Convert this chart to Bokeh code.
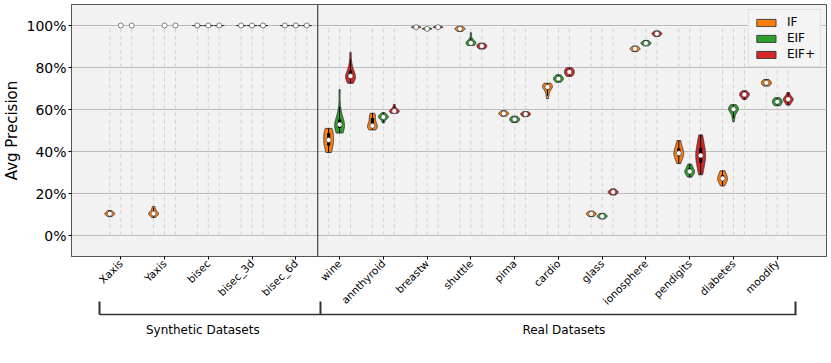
import numpy as np
from bokeh.plotting import figure
from bokeh.models import (FixedTicker, PrintfTickFormatter, Span, LinearAxis,
                          Legend, LegendItem, Range1d)
from bokeh.embed import file_html
from bokeh.resources import INLINE

# ---------------- data (Avg Precision per run, %) ----------------
datasets = ["Xaxis", "Yaxis", "bisec", "bisec_3d", "bisec_6d", "wine", "annthyroid",
            "breastw", "shuttle", "pima", "cardio", "glass", "ionosphere",
            "pendigits", "diabetes", "moodify"]
models = ["IF", "EIF", "EIF+"]
colors = ["#ff7f0e", "#2ca02c", "#d62728"]
n_synthetic = 5
group_labels = ["Synthetic Datasets", "Real Datasets"]
y_ticks = [0, 20, 40, 60, 80, 100]

IF_runs = [
    [9.0, 9.5, 9.9, 10.2, 10.4, 10.6, 10.9, 11.3, 11.9],
    [8.6, 9.4, 10.0, 10.3, 10.4, 10.5, 10.8, 11.5, 12.6, 13.8],
    [99.8, 99.9, 100, 100, 100],
    [99.8, 99.9, 100, 100, 100],
    [99.8, 99.9, 100, 100, 100],
    [39.5, 40.5, 42.3, 43.5, 45.0, 45.5, 46.5, 48.0, 49.4, 50.2, 51.0],
    [50.3, 51.2, 51.8, 52.0, 52.1, 52.3, 54.0, 55.5, 56.5, 57.3, 58.2],
    [98.7, 98.9, 99.05, 99.15, 99.2, 99.3, 99.4, 99.55, 99.7],
    [97.2, 97.6, 97.9, 98.2, 98.4, 98.6, 98.9, 99.2, 99.6],
    [56.8, 57.2, 57.6, 57.9, 58.1, 58.3, 58.6, 59.0, 59.4],
    [65.2, 67.5, 69.2, 70.2, 70.6, 70.8, 71.1, 71.5, 72.0, 72.5],
    [9.0, 9.4, 9.8, 10.1, 10.3, 10.5, 10.8, 11.2, 11.6],
    [87.6, 88.0, 88.4, 88.7, 88.9, 89.1, 89.4, 89.8, 90.2],
    [34.3, 35.8, 37.2, 38.3, 39.0, 39.2, 39.8, 40.8, 42.2, 43.6, 45.2],
    [23.6, 24.8, 25.8, 26.5, 27.0, 27.3, 28.0, 29.0, 30.0, 30.8],
    [71.2, 71.6, 72.0, 72.4, 72.7, 73.0, 73.4, 73.8, 74.3],
]
EIF_runs = [
    [100, 100, 100, 100, 100],
    [100, 100, 100, 100, 100],
    [99.8, 99.9, 100, 100, 100],
    [99.8, 99.9, 100, 100, 100],
    [99.8, 99.9, 100, 100, 100],
    [48.8, 49.5, 50.2, 51.0, 51.8, 52.3, 52.6, 53.0, 53.6, 54.5, 55.5, 57.5, 61.0, 69.5],
    [53.6, 55.0, 55.6, 56.0, 56.2, 56.4, 56.7, 57.0, 57.3, 57.6, 58.5],
    [97.9, 98.1, 98.25, 98.35, 98.4, 98.5, 98.6, 98.75, 98.9],
    [90.5, 91.0, 91.3, 91.5, 91.6, 91.8, 92.1, 92.6, 93.5, 96.5],
    [53.8, 54.2, 54.6, 55.0, 55.3, 55.6, 55.9, 56.3, 56.8],
    [73.0, 73.5, 74.0, 74.4, 74.7, 75.0, 75.4, 75.9, 76.5],
    [7.9, 8.3, 8.7, 9.0, 9.2, 9.4, 9.7, 10.1, 10.5],
    [90.3, 90.7, 91.1, 91.4, 91.6, 91.8, 92.1, 92.5, 92.9],
    [27.8, 28.6, 29.3, 29.9, 30.3, 30.5, 30.9, 31.5, 32.2, 33.0, 34.0],
    [54.2, 56.5, 58.3, 59.3, 59.8, 60.1, 60.3, 60.6, 61.0, 61.5, 62.3],
    [61.8, 62.3, 62.8, 63.3, 63.7, 64.1, 64.5, 65.0, 65.6],
]
EIFp_runs = [
    [100, 100, 100, 100, 100],
    [100, 100, 100, 100, 100],
    [99.8, 99.9, 100, 100, 100],
    [99.8, 99.9, 100, 100, 100],
    [99.8, 99.9, 100, 100, 100],
    [72.5, 73.5, 74.3, 74.8, 75.2, 75.6, 75.8, 76.0, 76.6, 77.5, 78.8, 80.2, 82.5, 87.2],
    [58.2, 58.5, 58.8, 59.0, 59.2, 59.4, 59.7, 60.1, 60.8, 62.4],
    [98.7, 98.9, 99.05, 99.15, 99.2, 99.3, 99.4, 99.55, 99.7],
    [88.8, 89.2, 89.6, 89.9, 90.2, 90.5, 90.8, 91.2, 91.6],
    [56.6, 57.0, 57.3, 57.6, 57.8, 58.0, 58.3, 58.6, 59.0],
    [75.8, 76.4, 76.9, 77.4, 77.9, 78.3, 78.8, 79.3, 79.9],
    [19.3, 19.7, 20.1, 20.5, 20.7, 20.9, 21.2, 21.6, 22.2],
    [94.8, 95.2, 95.6, 95.9, 96.1, 96.3, 96.6, 97.0, 97.4],
    [28.9, 31.0, 33.0, 34.8, 36.3, 37.5, 38.1, 39.0, 40.2, 41.8, 43.5, 45.5, 47.9],
    [64.8, 65.6, 66.2, 66.6, 67.0, 67.2, 67.5, 67.9, 68.4, 68.9],
    [62.1, 63.0, 63.8, 64.4, 64.8, 64.9, 65.2, 65.7, 66.5, 68.1],
]
all_runs = [IF_runs, EIF_runs, EIFp_runs]

# ---------------- layout helpers ----------------
SLOT = 4          # positions per dataset group (3 violins + gap)
HALF_W = 0.45     # max half width of a violin
FONT = "DejaVu Sans"


def xpos(g, m):
    return g * SLOT + m


def violin_outline(vals, x0):
    v = np.asarray(vals, float)
    if v.std() == 0:
        return None
    n = len(v)
    bw = v.std(ddof=1) * n ** (-0.2)
    ys = np.linspace(v.min(), v.max(), 90)
    dens = np.exp(-0.5 * ((ys[:, None] - v[None, :]) / bw) ** 2).sum(axis=1)
    dens = dens / dens.max() * HALF_W
    xs = np.concatenate([x0 - dens, (x0 + dens)[::-1]])
    yy = np.concatenate([ys, ys[::-1]])
    return list(xs), list(yy)


n_groups = len(datasets)

p = figure(width=828, height=339, x_range=Range1d(-3.5, 65.5),
           y_range=Range1d(-10, 110), output_backend="svg",
           toolbar_location=None, min_border_left=0, min_border_right=2,
           min_border_top=4, min_border_bottom=0,
           background_fill_color="#f2f2f2", border_fill_color="white",
           outline_line_color="#555555", outline_line_width=1)

# dashed guide lines at every violin position
guide_x = [xpos(g, m) for g in range(n_groups) for m in range(3)]
p.segment(x0=guide_x, y0=[0] * len(guide_x), x1=guide_x, y1=[100] * len(guide_x),
          line_color="#d2d2d2", line_width=1, line_dash="4 3")

# separator between synthetic and real datasets
p.add_layout(Span(location=n_synthetic * SLOT - 1, dimension="height",
                  line_color="#444444", line_width=1.2))

legend_items = []
for m, runs in enumerate(all_runs):
    pxs, pys = [], []
    wx, wy0, wy1, q1s, q3s, meds = [], [], [], [], [], []
    for g, vals in enumerate(runs):
        x0 = xpos(g, m)
        out = violin_outline(vals, x0)
        if out is not None:
            pxs.append(out[0])
            pys.append(out[1])
        v = np.asarray(vals, float)
        q1, med, q3 = np.percentile(v, [25, 50, 75])
        iqr = q3 - q1
        lo = max(v.min(), q1 - 1.5 * iqr)
        hi = min(v.max(), q3 + 1.5 * iqr)
        wx.append(x0); wy0.append(lo); wy1.append(hi)
        q1s.append(q1); q3s.append(q3); meds.append(med)
    r = p.patches(xs=pxs, ys=pys, fill_color=colors[m], fill_alpha=1.0,
                  line_color="#333333", line_width=0.9)
    legend_items.append(LegendItem(label=models[m], renderers=[r]))
    p.segment(x0=wx, y0=wy0, x1=wx, y1=wy1, line_color="black", line_width=1)
    p.segment(x0=wx, y0=q1s, x1=wx, y1=q3s, line_color="black", line_width=3.2)
    p.scatter(x=wx, y=meds, size=5, fill_color="white", line_color="#333333",
              line_width=0.6)

# y axis
p.yaxis.ticker = FixedTicker(ticks=y_ticks)
p.yaxis.formatter = PrintfTickFormatter(format="%d%%")
p.yaxis.axis_label = "Avg Precision"
p.yaxis.axis_label_text_font = FONT
p.yaxis.axis_label_text_font_style = "normal"
p.yaxis.axis_label_text_font_size = "15px"
p.yaxis.axis_label_text_color = "black"
p.yaxis.axis_label_standoff = 2
p.yaxis.major_label_text_font = FONT
p.yaxis.major_label_text_font_size = "14px"
p.yaxis.major_label_text_color = "black"
p.yaxis.major_label_standoff = 2
p.yaxis.major_tick_out = 3
p.yaxis.major_tick_in = 0
p.yaxis.minor_tick_line_color = None
p.yaxis.axis_line_color = "#555555"
p.ygrid.ticker = FixedTicker(ticks=y_ticks)
p.ygrid.grid_line_color = "#bcbcbc"
p.ygrid.grid_line_width = 1
p.xgrid.visible = False

# x axis with dataset names
tick_x = [xpos(g, 1) for g in range(n_groups)]
xa = p.xaxis[0]
xa.ticker = FixedTicker(ticks=tick_x)
xa.major_label_overrides = {t: name for t, name in zip(tick_x, datasets)}
xa.major_label_orientation = np.pi / 4
xa.major_label_text_font = FONT
xa.major_label_text_font_size = "10.5px"
xa.major_label_text_color = "black"
xa.major_label_standoff = 2
xa.major_tick_out = 3
xa.major_tick_in = 0
xa.axis_line_color = "#555555"

# bracket axis for dataset groups
syn_lo = -0.9
syn_hi = n_synthetic * SLOT - 0.7
real_hi = (n_groups - 1) * SLOT + 2.7
br = LinearAxis(ticker=FixedTicker(ticks=[8.5, 41.5], minor_ticks=[syn_lo, syn_hi, real_hi]),
                bounds=(syn_lo - 0.05, real_hi + 0.05),
                major_label_overrides={8.5: group_labels[0], 41.5: group_labels[1]})
br.major_tick_in = 0
br.major_tick_out = 0
br.minor_tick_in = 13
br.minor_tick_out = 0
br.minor_tick_line_width = 2
br.minor_tick_line_color = "#333333"
br.axis_line_color = "#333333"
br.axis_line_width = 1.3
br.major_label_standoff = 8
br.major_label_text_font = FONT
br.major_label_text_font_size = "12px"
br.major_label_text_color = "black"
p.add_layout(br, "below")

legend = Legend(items=legend_items, location="top_right",
                background_fill_color="#f4f4f4", background_fill_alpha=1,
                border_line_color="#d0d0d0", label_text_font=FONT,
                label_text_font_size="12px", label_text_color="black",
                glyph_width=24, glyph_height=9,
                label_height=14, spacing=2, padding=5, margin=5,
                label_standoff=9)
p.add_layout(legend)

open("out.html", "w").write(file_html(p, INLINE))
